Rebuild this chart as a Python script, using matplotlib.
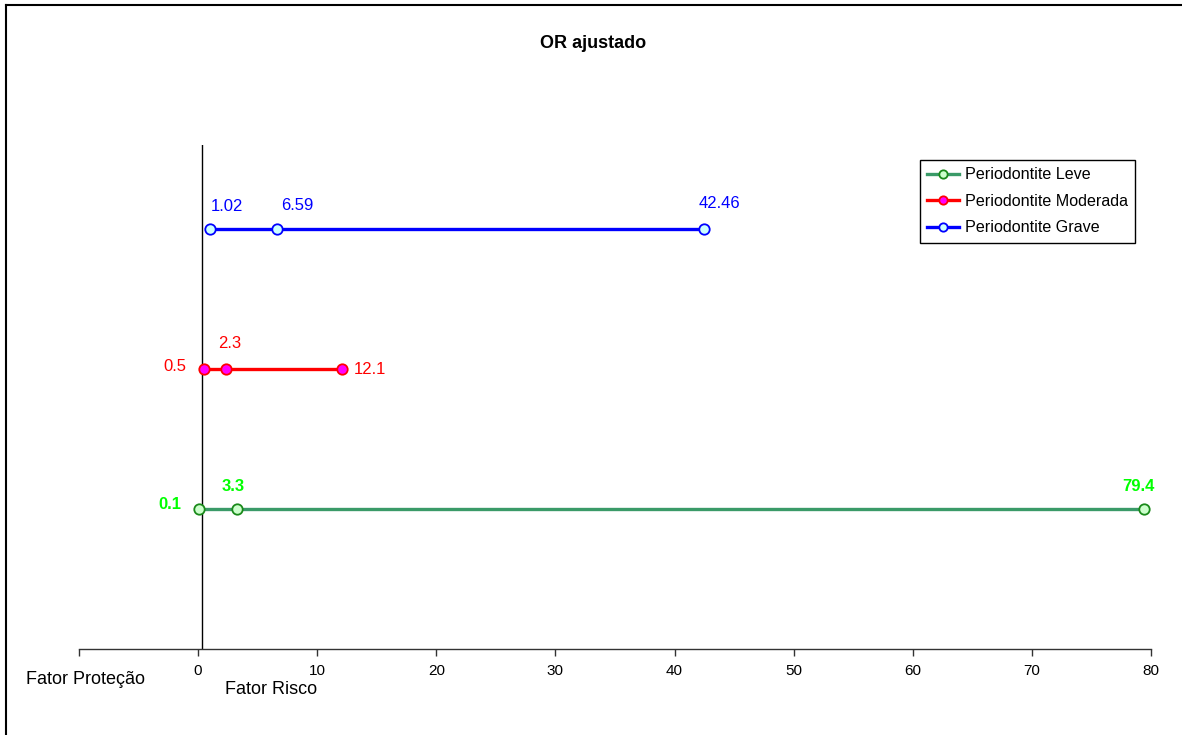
import matplotlib
matplotlib.use("Agg")
import matplotlib.pyplot as plt
from matplotlib.lines import Line2D

plt.rcParams['font.family'] = ['Liberation Sans', 'DejaVu Sans']

# ---- data ----
series_names = ["Periodontite Leve", "Periodontite Moderada", "Periodontite Grave"]
leve_values = [0.1, 3.3, 79.4]
moderada_values = [0.5, 2.3, 12.1]
grave_values = [1.02, 6.59, 42.46]
leve_labels = ["0.1", "3.3", "79.4"]
moderada_labels = ["0.5", "2.3", "12.1"]
grave_labels = ["1.02", "6.59", "42.46"]
row_positions = [1, 2, 3]
x_ticks = [0, 10, 20, 30, 40, 50, 60, 70, 80]
reference_x = 0.3

# ---- styles ----
styles = [
    dict(color="#3a9a68", mfc="#ccffcc", mec="#1a8a1a", lab_color="#00ff00", weight="bold"),
    dict(color="#ff0000", mfc="#ff00ff", mec="#ff0000", lab_color="#ff0000", weight="normal"),
    dict(color="#0000ff", mfc="#ccffff", mec="#0000ff", lab_color="#0000ff", weight="normal"),
]
# label offsets in points (dx, dy, ha) for each point
offsets = [
    [(-13, 3, "right"), (-3, 16, "center"), (-4, 16, "center")],
    [(-13, 2, "right"), (3, 18, "center"), (8, 0, "left")],
    [(0, 16, "left"), (3, 17, "left"), (-4, 18, "left")],
]

fig = plt.figure(figsize=(11.82, 7.35), dpi=100)
ax = fig.add_axes([79 / 1182, 1 - 649 / 735, (1151 - 79) / 1182, 504 / 735])

all_values = [leve_values, moderada_values, grave_values]
all_labels = [leve_labels, moderada_labels, grave_labels]
for i, (name, vals, labs, st) in enumerate(zip(series_names, all_values, all_labels, styles)):
    y = [row_positions[i]] * len(vals)
    ax.plot(vals, y, '-o', color=st["color"], lw=2.4, ms=7.5, mfc=st["mfc"],
            mec=st["mec"], mew=1.3, label=name, zorder=3, clip_on=False)
    for v, lab, (dx, dy, ha) in zip(vals, labs, offsets[i]):
        ax.annotate(lab, (v, row_positions[i]), xytext=(dx, dy), textcoords="offset points",
                    ha=ha, va="center", color=st["lab_color"], fontsize=12,
                    fontweight=st["weight"])

ax.axvline(reference_x, color="black", lw=1.0, zorder=2)

ax.set_xlim(-10, 80)
ax.set_ylim(0, 3.6)
ax.set_yticks([])
for s in ["top", "right", "left"]:
    ax.spines[s].set_visible(False)
ax.spines["bottom"].set_color("#333333")
ax.spines["bottom"].set_linewidth(1.0)
ax.set_xticks([-10] + x_ticks)
ax.set_xticklabels([""] + [str(t) for t in x_ticks], fontsize=11)
ax.tick_params(axis="x", direction="out", length=5, width=1.0, pad=6, colors="#333333",
               labelcolor="black")

fig.text(85 / 1182, 1 - 680 / 735, "Fator Proteção", ha="center", va="center", fontsize=13)
fig.text(271 / 1182, 1 - 690 / 735, "Fator Risco", ha="center", va="center", fontsize=13)
fig.text(593 / 1182, 1 - 43 / 735, "OR ajustado", ha="center", va="center", fontsize=13,
         fontweight="bold")

leg = ax.legend(loc="upper right", bbox_to_anchor=(1135 / 1182, 1 - 160 / 735),
                bbox_transform=fig.transFigure, fancybox=False, edgecolor="black",
                fontsize=11.6, handlelength=2.0, borderpad=0.45, labelspacing=0.72,
                handletextpad=0.35, borderaxespad=0, framealpha=1, markerscale=0.8)
leg.get_frame().set_linewidth(1.0)

# outer border (left and top visible)
fig.add_artist(Line2D([5.5 / 1182, 5.5 / 1182], [0, 1 - 4.5 / 735], transform=fig.transFigure,
                      color="black", lw=1.5))
fig.add_artist(Line2D([5.5 / 1182, 1], [1 - 4.5 / 735, 1 - 4.5 / 735], transform=fig.transFigure,
                      color="black", lw=1.5))

fig.savefig("out.png", dpi=100)
